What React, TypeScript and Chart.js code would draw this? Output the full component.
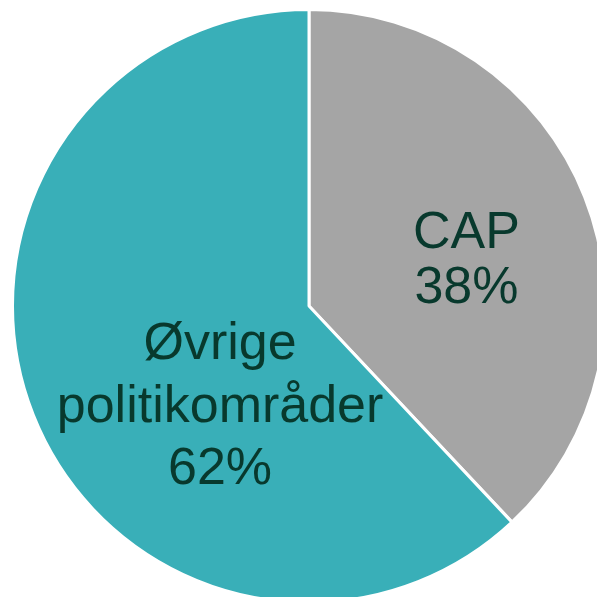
import React, { useEffect, useRef } from "react";
import { Chart, registerables } from "chart.js";

Chart.register(...registerables);

const categories = ["CAP", "Øvrige politikområder"];
const shares = [38, 62];
const labelLines = [["CAP", "38%"], ["Øvrige", "politikområder", "62%"]];
const sliceColors = ["#A5A5A5", "#39AFB8"];
const textColor = "#08392D";

// label anchor (fraction of radius from centre) and line spacing (fraction of radius)
const labelAnchors = [
  { fx: 0.531, fy: -0.196, step: 0.186 },
  { fx: -0.30, fy: 0.18, step: 0.211 },
];

const labelPlugin = {
  id: "sliceLabels",
  afterDatasetsDraw(chart: any) {
    const meta = chart.getDatasetMeta(0);
    const ctx = chart.ctx;
    ctx.save();
    ctx.fillStyle = textColor;
    ctx.font = "52px 'Liberation Sans', Arial, sans-serif";
    ctx.textAlign = "center";
    ctx.textBaseline = "alphabetic";
    meta.data.forEach((arc: any, i: number) => {
      const { x, y, outerRadius } = arc.getProps(["x", "y", "outerRadius"], true);
      const a = labelAnchors[i];
      const lines = labelLines[i];
      lines.forEach((line: string, j: number) => {
        ctx.fillText(line, x + a.fx * outerRadius, y + (a.fy + a.step * j) * outerRadius);
      });
    });
    ctx.restore();
  },
};

export default function App() {
  const ref = useRef<HTMLCanvasElement | null>(null);
  useEffect(() => {
    if (!ref.current) return;
    const chart = new Chart(ref.current, {
      type: "pie",
      data: {
        labels: categories,
        datasets: [
          {
            data: shares,
            backgroundColor: sliceColors,
            borderColor: "#FFFFFF",
            borderWidth: 3,
          },
        ],
      },
      options: {
        responsive: false,
        animation: false,
        devicePixelRatio: 1,
        layout: { padding: 0 },
        plugins: {
          legend: { display: false },
          tooltip: { enabled: false },
        },
      },
      plugins: [labelPlugin],
    });
    return () => chart.destroy();
  }, []);
  return (
    <div style={{ position: "absolute", left: 11, top: 8, width: 596, height: 596 }}>
      <canvas ref={ref} width={596} height={596} />
    </div>
  );
}
